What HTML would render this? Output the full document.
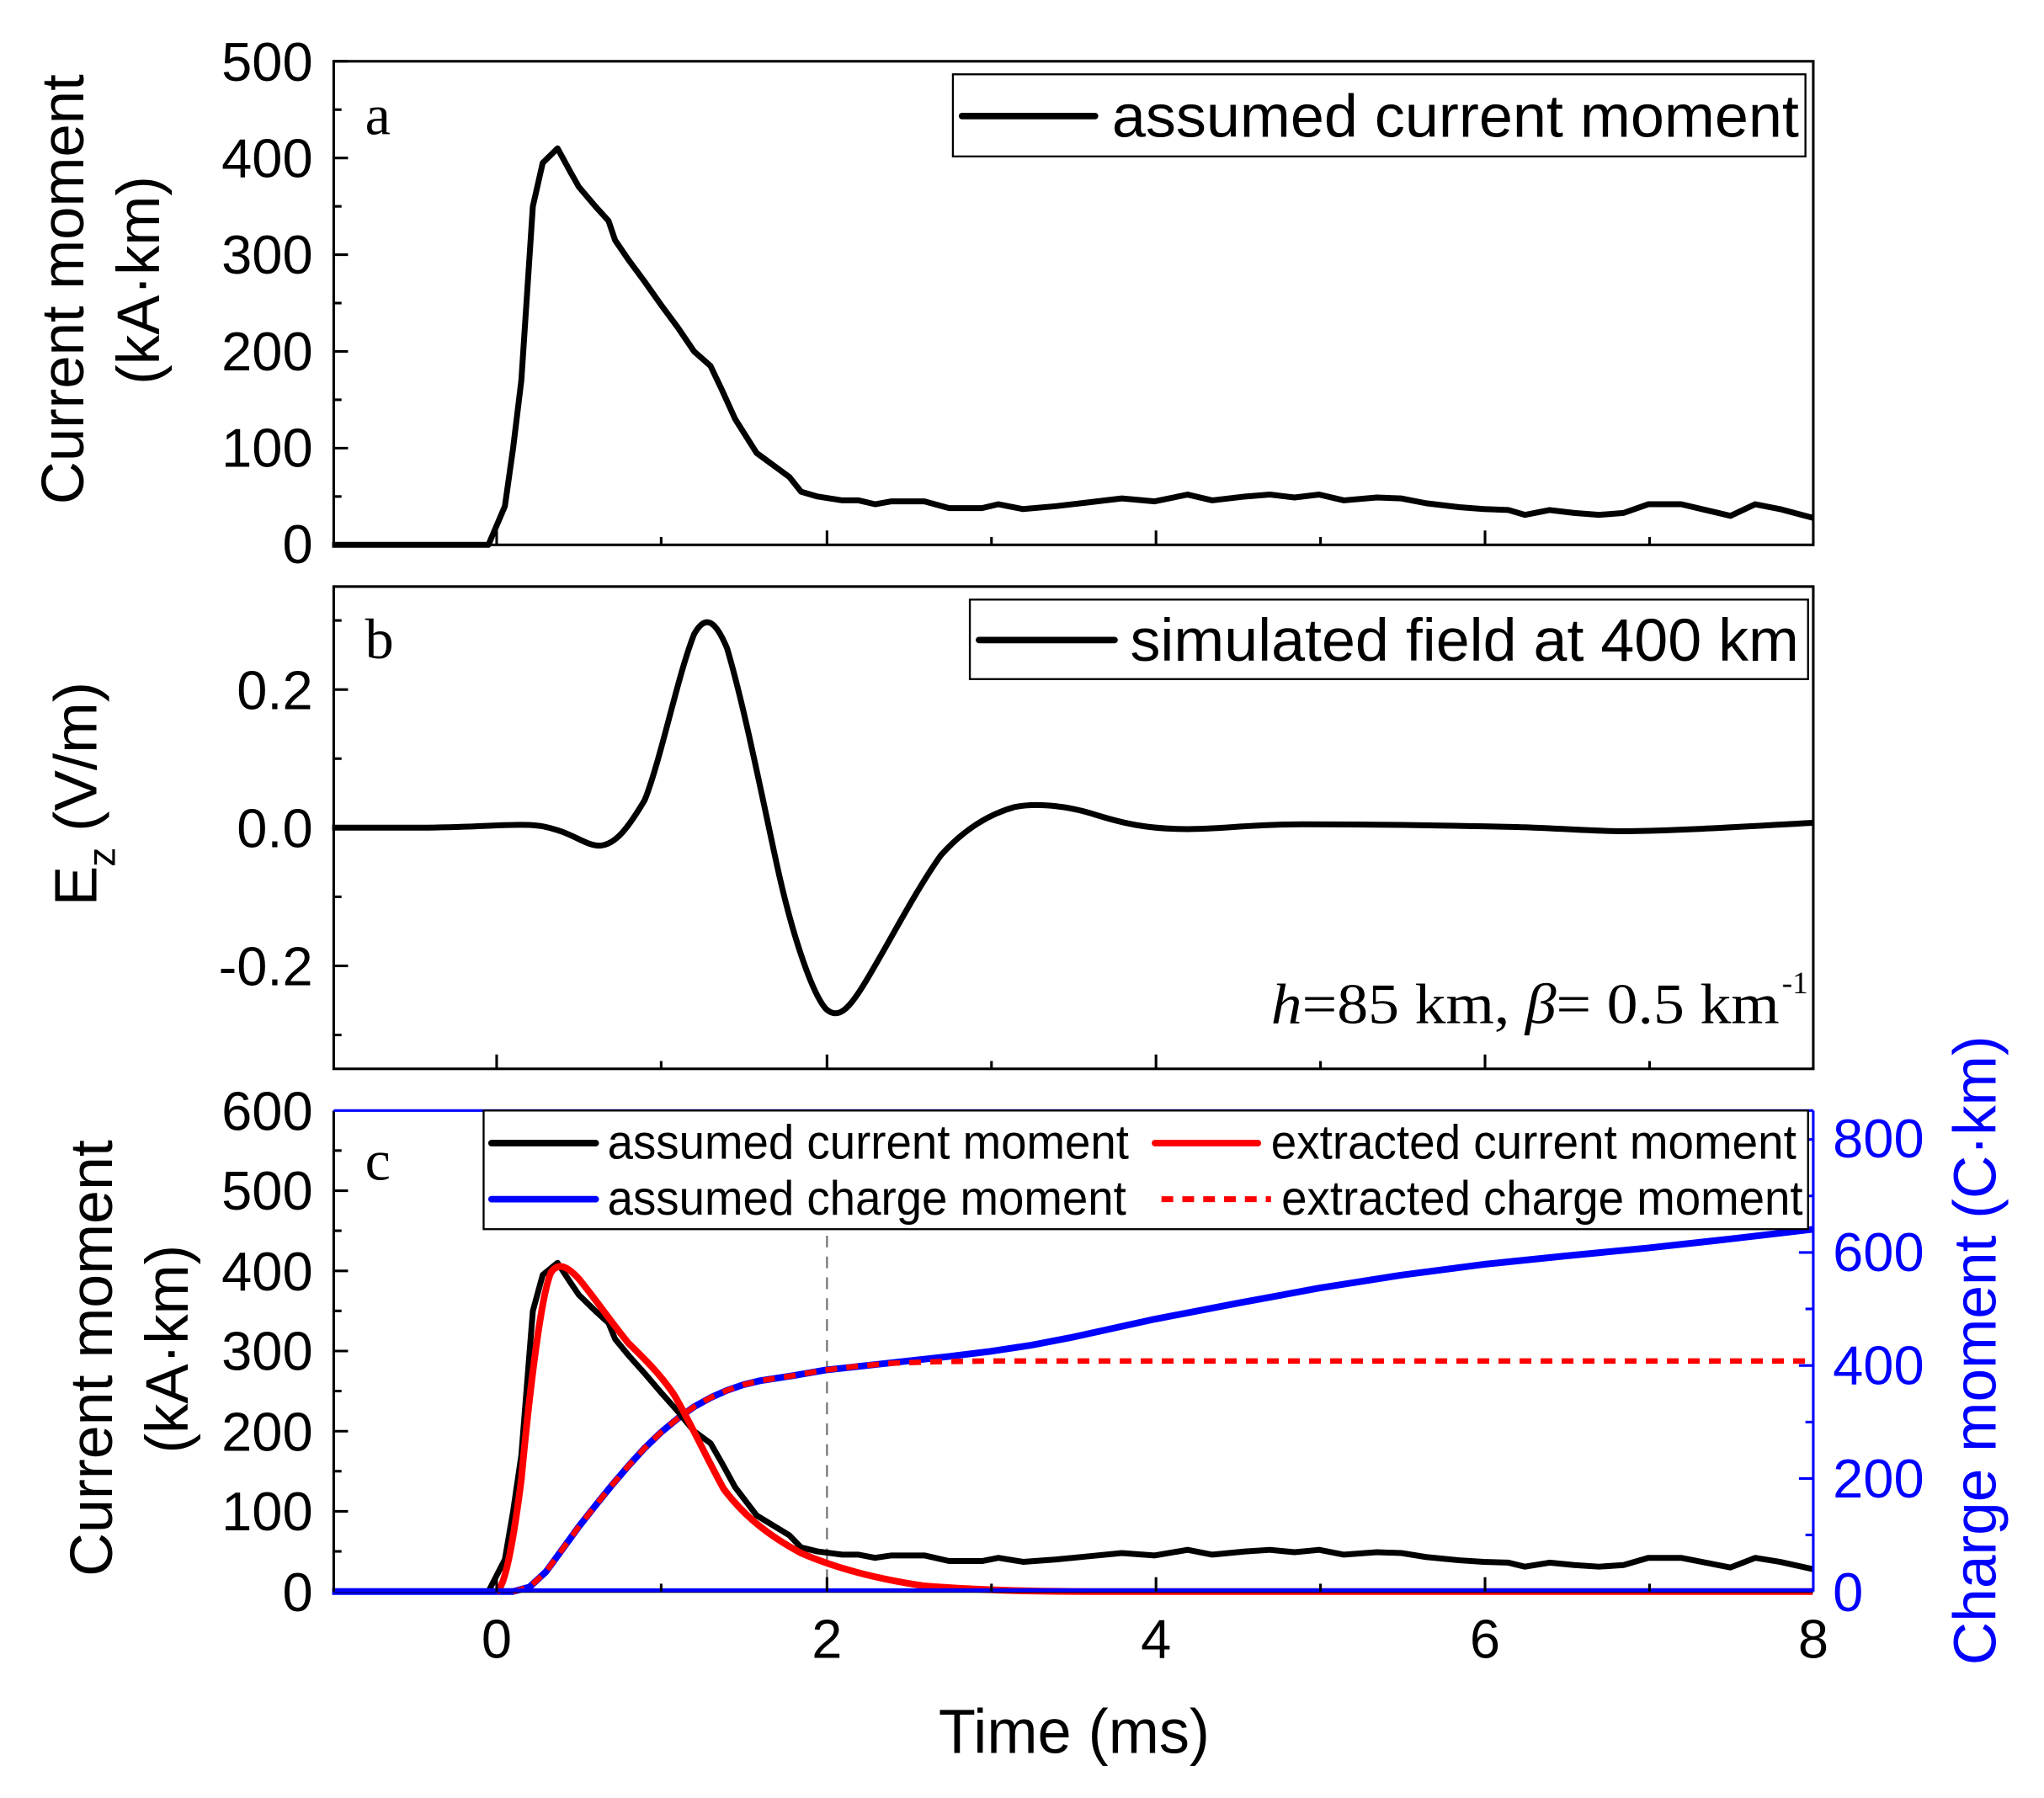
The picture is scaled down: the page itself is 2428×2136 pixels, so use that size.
<!DOCTYPE html>
<html><head><meta charset="utf-8"><style>html,body{margin:0;padding:0;background:#fff}svg{display:block}</style></head>
<body>
<svg xmlns="http://www.w3.org/2000/svg" width="2428" height="2136" viewBox="0 0 1568 1379.4" font-family="Liberation Sans, Arial, sans-serif">
<rect width="1568" height="1380" fill="#fff"/>

<!-- ===== Panel a ===== -->
<g transform="translate(381,418) scale(126.2,-0.742)" fill="none">
<polyline vector-effect="non-scaling-stroke" stroke="#000" stroke-width="7" stroke-linejoin="round" points="-1,0 -0.05,0 0.05,40 0.1,100 0.15,170 0.22,350 0.28,395 0.37,410 0.45,385 0.5,370 0.6,350 0.68,335 0.72,315 0.8,295 0.9,272 1.0,248 1.1,225 1.2,200 1.3,185 1.37,160 1.45,130 1.58,95 1.7,80 1.78,70 1.85,55 1.95,50 2.1,46 2.2,46 2.3,42 2.4,45 2.6,45 2.75,38 2.95,38 3.05,42 3.2,37 3.4,40 3.6,44 3.8,48 4.0,45 4.2,52 4.35,46 4.55,50 4.7,52 4.85,49 5.0,52 5.15,46 5.35,49 5.5,48 5.65,43 5.85,39 6.0,37 6.15,36 6.25,31 6.4,36 6.55,33 6.7,31 6.85,33 7.0,42 7.2,42 7.35,36 7.5,30 7.65,42 7.8,37 8.0,28"/>
</g>
<rect x="256" y="47" width="1135" height="371" fill="none" stroke="#000" stroke-width="2"/>
<g stroke="#000" stroke-width="2">
<line x1="256" y1="47" x2="267" y2="47"/><line x1="256" y1="121.2" x2="267" y2="121.2"/><line x1="256" y1="195.4" x2="267" y2="195.4"/><line x1="256" y1="269.6" x2="267" y2="269.6"/><line x1="256" y1="343.8" x2="267" y2="343.8"/>
<line x1="256" y1="84.1" x2="262" y2="84.1"/><line x1="256" y1="158.3" x2="262" y2="158.3"/><line x1="256" y1="232.5" x2="262" y2="232.5"/><line x1="256" y1="306.7" x2="262" y2="306.7"/><line x1="256" y1="380.9" x2="262" y2="380.9"/>
<line x1="381" y1="418" x2="381" y2="407"/><line x1="634.4" y1="418" x2="634.4" y2="407"/><line x1="886.8" y1="418" x2="886.8" y2="407"/><line x1="1139.2" y1="418" x2="1139.2" y2="407"/>
<line x1="507.2" y1="418" x2="507.2" y2="412"/><line x1="760.6" y1="418" x2="760.6" y2="412"/><line x1="1013" y1="418" x2="1013" y2="412"/><line x1="1265.4" y1="418" x2="1265.4" y2="412"/>
</g>
<g font-size="42" text-anchor="end" fill="#000">
<text x="240" y="62">500</text><text x="240" y="136">400</text><text x="240" y="210">300</text><text x="240" y="284">200</text><text x="240" y="358">100</text><text x="240" y="432">0</text>
</g>
<text x="280" y="103" font-family="Liberation Serif, serif" font-size="44">a</text>
<rect x="731" y="57" width="654" height="63" fill="#fff" stroke="#000" stroke-width="1.5"/>
<line x1="738" y1="89" x2="840" y2="89" stroke="#000" stroke-width="5" stroke-linecap="round"/>
<text x="853" y="105" font-size="46" textLength="527" lengthAdjust="spacingAndGlyphs">assumed current moment</text>
<text transform="translate(64,222) rotate(-90)" font-size="46" text-anchor="middle" textLength="330" lengthAdjust="spacingAndGlyphs">Current moment</text>
<text transform="translate(122,215) rotate(-90)" font-size="46" text-anchor="middle" textLength="160" lengthAdjust="spacingAndGlyphs">(kA·km)</text>

<!-- ===== Panel b ===== -->
<g transform="translate(381,635) scale(126.2,-530)" fill="none">
<path vector-effect="non-scaling-stroke" stroke="#000" stroke-width="7" stroke-linejoin="round" d="M-1,0 L-0.5,0 C-0.2,0 0,0.004 0.1,0.004 C0.25,0.005 0.3,0.002 0.4,-0.006 C0.5,-0.015 0.55,-0.025 0.62,-0.026 C0.72,-0.026 0.8,0.0 0.9,0.04 C1.0,0.1 1.1,0.22 1.2,0.28 C1.27,0.31 1.33,0.3 1.4,0.26 C1.5,0.18 1.6,0.06 1.7,-0.05 C1.8,-0.16 1.92,-0.24 2.0,-0.262 C2.08,-0.28 2.15,-0.26 2.25,-0.22 C2.4,-0.16 2.55,-0.09 2.7,-0.04 C2.85,0.0 3.0,0.02 3.15,0.03 C3.3,0.037 3.5,0.03 3.65,0.018 C3.8,0.007 3.95,-0.002 4.2,-0.002 C4.4,-0.002 4.6,0.005 4.9,0.005 C5.3,0.005 5.8,0.003 6.2,0.001 C6.5,-0.001 6.7,-0.006 6.9,-0.005 C7.3,-0.003 7.6,0.002 8,0.007"/>
</g>
<rect x="256" y="450" width="1135" height="370" fill="none" stroke="#000" stroke-width="2"/>
<g stroke="#000" stroke-width="2">
<line x1="256" y1="529" x2="267" y2="529"/><line x1="256" y1="635" x2="267" y2="635"/><line x1="256" y1="741" x2="267" y2="741"/>
<line x1="256" y1="476" x2="262" y2="476"/><line x1="256" y1="582" x2="262" y2="582"/><line x1="256" y1="688" x2="262" y2="688"/><line x1="256" y1="794" x2="262" y2="794"/>
<line x1="381" y1="820" x2="381" y2="809"/><line x1="634.4" y1="820" x2="634.4" y2="809"/><line x1="886.8" y1="820" x2="886.8" y2="809"/><line x1="1139.2" y1="820" x2="1139.2" y2="809"/>
<line x1="507.2" y1="820" x2="507.2" y2="814"/><line x1="760.6" y1="820" x2="760.6" y2="814"/><line x1="1013" y1="820" x2="1013" y2="814"/><line x1="1265.4" y1="820" x2="1265.4" y2="814"/>
</g>
<g font-size="42" text-anchor="end" fill="#000">
<text x="240" y="544">0.2</text><text x="240" y="650">0.0</text><text x="240" y="756">-0.2</text>
</g>
<text x="280" y="505" font-family="Liberation Serif, serif" font-size="44">b</text>
<rect x="744" y="460" width="643" height="61" fill="#fff" stroke="#000" stroke-width="1.5"/>
<line x1="751" y1="491" x2="855" y2="491" stroke="#000" stroke-width="5" stroke-linecap="round"/>
<text x="867" y="507" font-size="46" textLength="513" lengthAdjust="spacingAndGlyphs">simulated field at 400 km</text>
<text x="975" y="785" font-family="Liberation Serif, serif" font-size="44" textLength="390" lengthAdjust="spacingAndGlyphs"><tspan font-style="italic">h</tspan>=85 km, <tspan font-style="italic">β</tspan>= 0.5 km</text>
<text x="1367" y="762" font-family="Liberation Serif, serif" font-size="24">-1</text>
<g transform="translate(74,610) rotate(-90)" font-size="46">
<text x="-85" y="0">E</text><text x="-55" y="14" font-size="30">z</text><text x="-28" y="0" textLength="115" lengthAdjust="spacingAndGlyphs">(V/m)</text>
</g>

<!-- ===== Panel c ===== -->
<line x1="634.4" y1="852" x2="634.4" y2="1221" stroke="#777" stroke-width="1.5" stroke-dasharray="9,7"/>
<g transform="translate(381,1221) scale(126.2,-0.4335)" fill="none">
<polyline vector-effect="non-scaling-stroke" stroke="#00f" stroke-width="8" stroke-linejoin="round" points="-1,0 0.1,0 0.2,8 0.3,35 0.4,75 0.5,115 0.6,152 0.7,188 0.8,222 0.9,254 1.0,282 1.1,306 1.2,327 1.3,343 1.4,356 1.5,366 1.6,373 1.8,382 2.0,392 2.25,400 2.5,408 2.75,416 3.0,425 3.25,436 3.5,450 3.75,466 4.0,482 4.5,510 5.0,537 5.5,560 6.0,579 6.5,594 7.0,608 7.5,624 8.0,641"/>
<polyline vector-effect="non-scaling-stroke" stroke="#f00" stroke-width="6.5" stroke-dasharray="14,11" points="0.1,0 0.2,8 0.3,35 0.4,75 0.5,115 0.6,152 0.7,188 0.8,222 0.9,254 1.0,282 1.1,306 1.2,327 1.3,343 1.4,356 1.5,366 1.6,373 1.8,382 2.0,392 2.2,399 2.4,404 2.7,407 3.0,408 8.0,408"/>
</g>
<g transform="translate(381,1221) scale(126.2,-0.615)" fill="none">
<polyline vector-effect="non-scaling-stroke" stroke="#000" stroke-width="7" stroke-linejoin="round" points="-0.05,0 0.05,40 0.1,100 0.15,170 0.22,350 0.28,395 0.37,410 0.45,385 0.5,370 0.6,350 0.68,335 0.72,315 0.8,295 0.9,272 1.0,248 1.1,225 1.2,200 1.3,185 1.37,160 1.45,130 1.58,95 1.7,80 1.78,70 1.85,55 1.95,50 2.1,46 2.2,46 2.3,42 2.4,45 2.6,45 2.75,38 2.95,38 3.05,42 3.2,37 3.4,40 3.6,44 3.8,48 4.0,45 4.2,52 4.35,46 4.55,50 4.7,52 4.85,49 5.0,52 5.15,46 5.35,49 5.5,48 5.65,43 5.85,39 6.0,37 6.15,36 6.25,31 6.4,36 6.55,33 6.7,31 6.85,33 7.0,42 7.2,42 7.35,36 7.5,30 7.65,42 7.8,37 8.0,28"/>
<path vector-effect="non-scaling-stroke" stroke="#f00" stroke-width="8" stroke-linejoin="round" d="M0,0 C0.05,5 0.1,60 0.15,140 C0.2,250 0.27,370 0.33,398 C0.37,410 0.42,408 0.5,390 C0.6,365 0.7,335 0.8,310 C0.9,290 1.0,270 1.08,245 C1.18,210 1.28,165 1.38,128 C1.5,95 1.65,70 1.85,48 C2.05,30 2.3,16 2.6,7 C2.9,2 3.2,0 3.6,0 L8,0"/>
</g>
<line x1="256" y1="1221" x2="1391" y2="1221" stroke="#000" stroke-width="2"/>
<line x1="256" y1="1220" x2="1391" y2="1220" stroke="#00f" stroke-width="3"/>
<line x1="256" y1="852" x2="256" y2="1221" stroke="#000" stroke-width="2"/>
<line x1="256" y1="852" x2="1391" y2="852" stroke="#00f" stroke-width="2"/>
<line x1="1391" y1="852" x2="1391" y2="1221" stroke="#00f" stroke-width="2"/>
<g stroke="#000" stroke-width="2">
<line x1="256" y1="913.5" x2="267" y2="913.5"/><line x1="256" y1="975" x2="267" y2="975"/><line x1="256" y1="1036.5" x2="267" y2="1036.5"/><line x1="256" y1="1098" x2="267" y2="1098"/><line x1="256" y1="1159.5" x2="267" y2="1159.5"/>
<line x1="256" y1="882.7" x2="262" y2="882.7"/><line x1="256" y1="944.2" x2="262" y2="944.2"/><line x1="256" y1="1005.7" x2="262" y2="1005.7"/><line x1="256" y1="1067.2" x2="262" y2="1067.2"/><line x1="256" y1="1128.7" x2="262" y2="1128.7"/><line x1="256" y1="1190.2" x2="262" y2="1190.2"/>
<line x1="381" y1="1221" x2="381" y2="1210"/><line x1="634.4" y1="1221" x2="634.4" y2="1210"/><line x1="886.8" y1="1221" x2="886.8" y2="1210"/><line x1="1139.2" y1="1221" x2="1139.2" y2="1210"/>
<line x1="507.2" y1="1221" x2="507.2" y2="1215"/><line x1="760.6" y1="1221" x2="760.6" y2="1215"/><line x1="1013" y1="1221" x2="1013" y2="1215"/><line x1="1265.4" y1="1221" x2="1265.4" y2="1215"/>
</g>
<g stroke="#00f" stroke-width="2">
<line x1="1391" y1="874.2" x2="1380" y2="874.2"/><line x1="1391" y1="960.9" x2="1380" y2="960.9"/><line x1="1391" y1="1047.6" x2="1380" y2="1047.6"/><line x1="1391" y1="1134.3" x2="1380" y2="1134.3"/>
<line x1="1391" y1="917.5" x2="1385" y2="917.5"/><line x1="1391" y1="1004.2" x2="1385" y2="1004.2"/><line x1="1391" y1="1091" x2="1385" y2="1091"/><line x1="1391" y1="1177.6" x2="1385" y2="1177.6"/>
</g>
<g font-size="42" text-anchor="end" fill="#000">
<text x="240" y="867">600</text><text x="240" y="928">500</text><text x="240" y="990">400</text><text x="240" y="1051">300</text><text x="240" y="1113">200</text><text x="240" y="1174">100</text><text x="240" y="1236">0</text>
</g>
<g font-size="42" fill="#00f">
<text x="1406" y="888">800</text><text x="1406" y="975">600</text><text x="1406" y="1062">400</text><text x="1406" y="1149">200</text><text x="1406" y="1236">0</text>
</g>
<g font-size="42" text-anchor="middle" fill="#000">
<text x="381" y="1272">0</text><text x="634.4" y="1272">2</text><text x="886.8" y="1272">4</text><text x="1139.2" y="1272">6</text><text x="1391" y="1272">8</text>
</g>
<text x="824" y="1345" font-size="48" text-anchor="middle" textLength="208" lengthAdjust="spacingAndGlyphs">Time (ms)</text>
<text x="280" y="905" font-family="Liberation Serif, serif" font-size="44">c</text>
<rect x="371" y="852" width="1016" height="91" fill="#fff" stroke="#000" stroke-width="1.5"/>
<line x1="377" y1="877" x2="457" y2="877" stroke="#000" stroke-width="5" stroke-linecap="round"/>
<text x="466" y="889" font-size="37" textLength="400" lengthAdjust="spacingAndGlyphs">assumed current moment</text>
<line x1="886" y1="877" x2="965" y2="877" stroke="#f00" stroke-width="5" stroke-linecap="round"/>
<text x="975" y="889" font-size="37" textLength="403" lengthAdjust="spacingAndGlyphs">extracted current moment</text>
<line x1="377" y1="920" x2="457" y2="920" stroke="#00f" stroke-width="5" stroke-linecap="round"/>
<text x="466" y="932" font-size="37" textLength="398" lengthAdjust="spacingAndGlyphs">assumed charge moment</text>
<line x1="891" y1="920" x2="975" y2="920" stroke="#f00" stroke-width="4.5" stroke-dasharray="9,7"/>
<text x="983" y="932" font-size="37" textLength="400" lengthAdjust="spacingAndGlyphs">extracted charge moment</text>
<text transform="translate(86,1042) rotate(-90)" font-size="46" text-anchor="middle" textLength="335" lengthAdjust="spacingAndGlyphs">Current moment</text>
<text transform="translate(144,1035) rotate(-90)" font-size="46" text-anchor="middle" textLength="160" lengthAdjust="spacingAndGlyphs">(kA·km)</text>
<text transform="translate(1531,1036) rotate(-90)" font-size="46" text-anchor="middle" fill="#00f" textLength="483" lengthAdjust="spacingAndGlyphs">Charge moment (C·km)</text>
</svg>
</body></html>
